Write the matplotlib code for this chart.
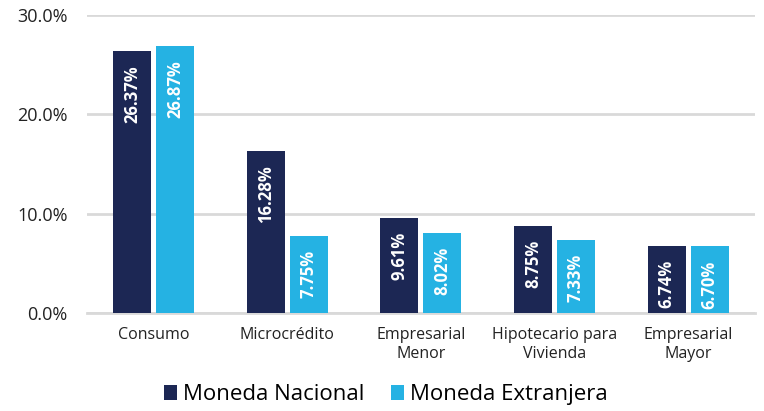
import matplotlib.pyplot as plt
import numpy as np

plt.rcParams['font.family'] = ['Open Sans', 'DejaVu Sans']

categorias = ['Consumo', 'Microcrédito', 'Empresarial\nMenor', 'Hipotecario para\nVivienda', 'Empresarial\nMayor']
nacional = [26.37, 16.28, 9.61, 8.75, 6.74]
extranjera = [26.87, 7.75, 8.02, 7.33, 6.70]

c_nac = '#1c2754'
c_ext = '#25b2e3'

fig = plt.figure(figsize=(7.64, 4.11), dpi=100)
ax = fig.add_axes([0.1139, 0.2384, 0.8741, 0.7251])

x = np.arange(len(categorias))
w = 0.284
off = 0.161
b1 = ax.bar(x - off, nacional, w, color=c_nac, label='Moneda Nacional', zorder=3)
b2 = ax.bar(x + off, extranjera, w, color=c_ext, label='Moneda Extranjera', zorder=3)

for bars, vals in ((b1, nacional), (b2, extranjera)):
    for b, v in zip(bars, vals):
        ax.annotate(f'{v:.2f}%', (b.get_x() + b.get_width() / 2, v),
                    xytext=(0, -10), textcoords='offset points',
                    ha='center', va='top', rotation=90, color='white',
                    fontsize=12, fontweight='bold', zorder=4)

ax.set_xlim(-0.5, 4.5)
ax.set_ylim(0, 30)
ax.set_yticks([0, 10, 20, 30])
ax.set_yticklabels(['0.0%', '10.0%', '20.0%', '30.0%'], fontsize=13, color='#222222')
ax.set_xticks(x)
ax.set_xticklabels(categorias, fontsize=11.5, color='#222222', linespacing=1.25)
ax.tick_params(axis='x', length=0, pad=10)
ax.tick_params(axis='y', length=0, pad=14)
ax.grid(axis='y', color='#d9d9d9', linewidth=2, zorder=0)
for s in ['top', 'right', 'left']:
    ax.spines[s].set_visible(False)
ax.spines['bottom'].set_color('#d9d9d9')
ax.spines['bottom'].set_linewidth(2)

fig.legend(loc='lower center', bbox_to_anchor=(0.505, -0.035), ncol=2, frameon=False,
           fontsize=16, handlelength=0.6, handleheight=0.6, handletextpad=0.25,
           columnspacing=1.2)

fig.savefig('out.png', dpi=100)
